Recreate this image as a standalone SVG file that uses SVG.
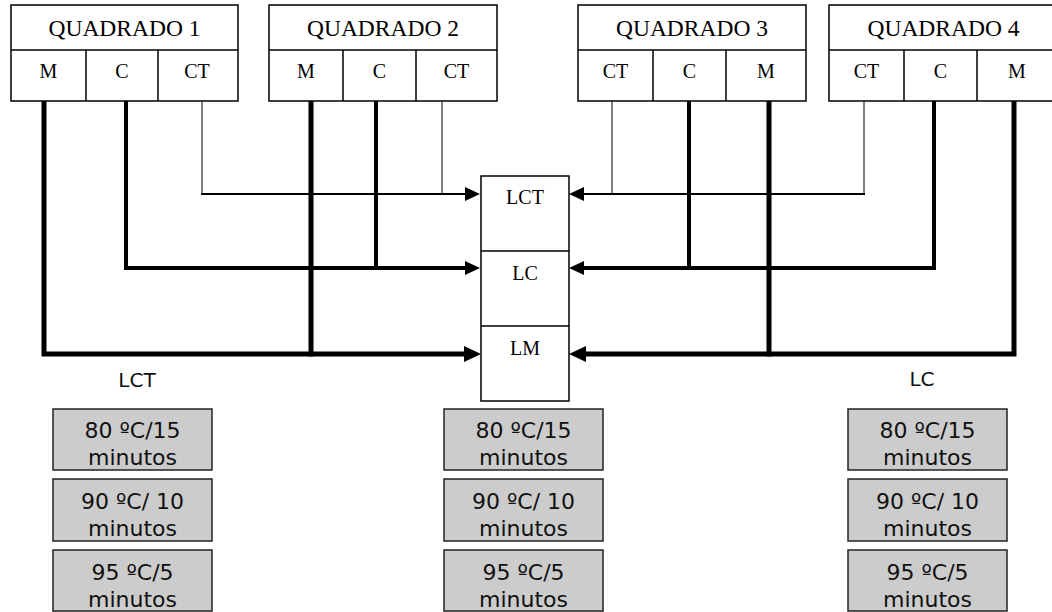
<svg xmlns="http://www.w3.org/2000/svg" width="1052" height="612" viewBox="0 0 1052 612">
<style>
.box{fill:#fff;stroke:#000;stroke-width:1.5}
.grey{fill:#cccccc;stroke:#222;stroke-width:1.5}
.serif{font-family:"Liberation Serif","Times New Roman",serif;fill:#000;text-anchor:middle}
.hdr{font-size:23.5px}
.sub{font-size:20px}
.sans{font-family:"DejaVu Sans",Verdana,sans-serif;fill:#111;text-anchor:middle}
.gt{font-size:22px}
.lbl{font-size:20px}
.c{fill:none;stroke:#000;stroke-linejoin:miter;stroke-linecap:square}
.ct{stroke-width:1;stroke-linecap:butt}
.w2{stroke-width:2}
.w4{stroke-width:4}
.w5{stroke-width:5}
.ah{fill:#000;stroke:none}
</style>
<rect width="1052" height="612" fill="#fff"/>

<g id="connectors">
  <!-- left side -->
  <polyline class="c ct" points="202,101 202,194"/>
  <polyline class="c ct" points="442,101 442,194"/>
  <polyline class="c w2" points="202,194 466,194"/>
  <polyline class="c w4" points="126,101 126,268 466,268"/>
  <polyline class="c w4" points="376,101 376,268"/>
  <polyline class="c w5" points="44,101 44,354 464,354"/>
  <polyline class="c w5" points="311,101 311,354"/>
  <polygon class="ah" points="480,194 465,187 465,201"/>
  <polygon class="ah" points="480,268 465,261 465,275"/>
  <polygon class="ah" points="481,354 464,346 464,362"/>
  <!-- right side -->
  <polyline class="c ct" points="612,101 612,194"/>
  <polyline class="c ct" points="864,101 864,194"/>
  <polyline class="c w2" points="584,194 864,194"/>
  <polyline class="c w4" points="689,101 689,268"/>
  <polyline class="c w4" points="584,268 934,268 934,101"/>
  <polyline class="c w5" points="769,101 769,354"/>
  <polyline class="c w5" points="586,354 1014,354 1014,101"/>
  <polygon class="ah" points="569,194 584,187 584,201"/>
  <polygon class="ah" points="569,268 584,261 584,275"/>
  <polygon class="ah" points="569,354 586,346 586,362"/>
</g>

<g id="quadrado1">
  <rect class="box" x="11" y="5" width="227" height="96"/>
  <line class="box" x1="11" y1="50" x2="238" y2="50"/>
  <line class="box" x1="86" y1="50" x2="86" y2="101"/>
  <line class="box" x1="158" y1="50" x2="158" y2="101"/>
  <text class="serif hdr" x="124.5" y="36">QUADRADO 1</text>
  <text class="serif sub" x="48.5" y="78">M</text>
  <text class="serif sub" x="122" y="78">C</text>
  <text class="serif sub" x="197" y="78">CT</text>
</g>

<g id="quadrado2">
  <rect class="box" x="269" y="5" width="228" height="96"/>
  <line class="box" x1="269" y1="50" x2="497" y2="50"/>
  <line class="box" x1="343" y1="50" x2="343" y2="101"/>
  <line class="box" x1="416" y1="50" x2="416" y2="101"/>
  <text class="serif hdr" x="383" y="36">QUADRADO 2</text>
  <text class="serif sub" x="306" y="78">M</text>
  <text class="serif sub" x="379.5" y="78">C</text>
  <text class="serif sub" x="456.5" y="78">CT</text>
</g>

<g id="quadrado3">
  <rect class="box" x="578" y="5" width="228" height="96"/>
  <line class="box" x1="578" y1="50" x2="806" y2="50"/>
  <line class="box" x1="653" y1="50" x2="653" y2="101"/>
  <line class="box" x1="726" y1="50" x2="726" y2="101"/>
  <text class="serif hdr" x="692" y="36">QUADRADO 3</text>
  <text class="serif sub" x="615.5" y="78">CT</text>
  <text class="serif sub" x="689.5" y="78">C</text>
  <text class="serif sub" x="766" y="78">M</text>
</g>

<g id="quadrado4">
  <rect class="box" x="829" y="5" width="229" height="96"/>
  <line class="box" x1="829" y1="50" x2="1058" y2="50"/>
  <line class="box" x1="904" y1="50" x2="904" y2="101"/>
  <line class="box" x1="977" y1="50" x2="977" y2="101"/>
  <text class="serif hdr" x="943.5" y="36">QUADRADO 4</text>
  <text class="serif sub" x="866.5" y="78">CT</text>
  <text class="serif sub" x="940.5" y="78">C</text>
  <text class="serif sub" x="1017" y="78">M</text>
</g>

<g id="centro">
  <rect class="box" x="481" y="176" width="88" height="225"/>
  <line class="box" x1="481" y1="251" x2="569" y2="251"/>
  <line class="box" x1="481" y1="326" x2="569" y2="326"/>
  <text class="serif sub" x="525" y="204">LCT</text>
  <text class="serif sub" x="525" y="280">LC</text>
  <text class="serif sub" x="525" y="355">LM</text>
</g>

<g id="label-lct">
  <text class="sans lbl" x="137" y="387">LCT</text>
</g>
<g id="label-lc">
  <text class="sans lbl" x="922" y="386">LC</text>
</g>

<g id="col-esq">
  <rect class="grey" x="53" y="409" width="159" height="61"/>
  <text class="sans gt" x="132.5" y="438">80 ºC/15</text>
  <text class="sans gt" x="132.5" y="465">minutos</text>
  <rect class="grey" x="53" y="479" width="159" height="62"/>
  <text class="sans gt" x="132.5" y="509">90 ºC/ 10</text>
  <text class="sans gt" x="132.5" y="536">minutos</text>
  <rect class="grey" x="53" y="550" width="159" height="61"/>
  <text class="sans gt" x="132.5" y="580">95 ºC/5</text>
  <text class="sans gt" x="132.5" y="607">minutos</text>
</g>

<g id="col-centro">
  <rect class="grey" x="444" y="409" width="159" height="61"/>
  <text class="sans gt" x="523.5" y="438">80 ºC/15</text>
  <text class="sans gt" x="523.5" y="465">minutos</text>
  <rect class="grey" x="444" y="479" width="159" height="62"/>
  <text class="sans gt" x="523.5" y="509">90 ºC/ 10</text>
  <text class="sans gt" x="523.5" y="536">minutos</text>
  <rect class="grey" x="444" y="550" width="159" height="61"/>
  <text class="sans gt" x="523.5" y="580">95 ºC/5</text>
  <text class="sans gt" x="523.5" y="607">minutos</text>
</g>

<g id="col-dir">
  <rect class="grey" x="848" y="409" width="159" height="61"/>
  <text class="sans gt" x="927.5" y="438">80 ºC/15</text>
  <text class="sans gt" x="927.5" y="465">minutos</text>
  <rect class="grey" x="848" y="479" width="159" height="62"/>
  <text class="sans gt" x="927.5" y="509">90 ºC/ 10</text>
  <text class="sans gt" x="927.5" y="536">minutos</text>
  <rect class="grey" x="848" y="550" width="159" height="61"/>
  <text class="sans gt" x="927.5" y="580">95 ºC/5</text>
  <text class="sans gt" x="927.5" y="607">minutos</text>
</g>
</svg>
